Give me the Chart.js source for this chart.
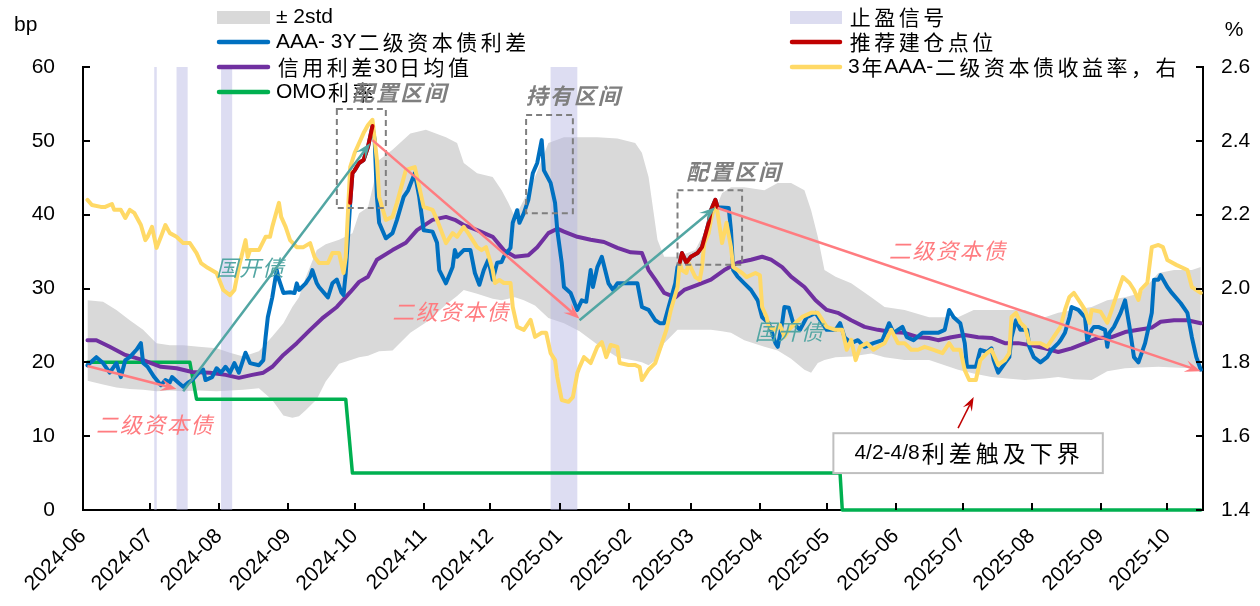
<!DOCTYPE html>
<html>
<head>
<meta charset="utf-8">
<script src="https://cdn.jsdelivr.net/npm/chart.js@4.4.1/dist/chart.umd.min.js"></script>
<style>
  html, body { margin: 0; padding: 0; background: #fff; }
  #c { display: block; }
</style>
</head>
<body>
<canvas id="c" width="1260" height="606"></canvas>
<script>
// ---------------- data ----------------
const tickLabels = ['2024-06','2024-07','2024-08','2024-09','2024-10','2024-11','2024-12','2025-01',
  '2025-02','2025-03','2025-04','2025-05','2025-06','2025-07','2025-08','2025-09','2025-10'];
const leftTicks = [0, 10, 20, 30, 40, 50, 60];
const rightTicks = [1.4, 1.6, 1.8, 2.0, 2.2, 2.4, 2.6];

// AAA- 3Y 二级资本债利差 (bp)
const spreadDates = ['2024-06-03','2024-06-07','2024-06-10','2024-06-13','2024-06-16','2024-06-18','2024-06-20','2024-06-22','2024-06-25','2024-06-27','2024-06-28','2024-06-30',
  '2024-07-03','2024-07-06','2024-07-08','2024-07-10','2024-07-11','2024-07-14','2024-07-16','2024-07-18','2024-07-20','2024-07-23','2024-07-25','2024-07-26','2024-07-29','2024-07-31',
  '2024-08-02','2024-08-04','2024-08-06','2024-08-08','2024-08-10','2024-08-13','2024-08-15','2024-08-19','2024-08-21','2024-08-22','2024-08-23','2024-08-25','2024-08-27','2024-08-28','2024-08-30',
  '2024-09-02','2024-09-04','2024-09-05','2024-09-06','2024-09-09','2024-09-11','2024-09-12','2024-09-14','2024-09-15','2024-09-19','2024-09-21','2024-09-23','2024-09-25','2024-09-26','2024-09-27','2024-09-29','2024-09-30',
  '2024-10-01','2024-10-03','2024-10-05','2024-10-07','2024-10-09','2024-10-10','2024-10-11','2024-10-12','2024-10-15','2024-10-18','2024-10-20','2024-10-23','2024-10-25','2024-10-28','2024-10-30',
  '2024-11-01','2024-11-05','2024-11-07','2024-11-08','2024-11-11','2024-11-14','2024-11-15','2024-11-16','2024-11-19','2024-11-22','2024-11-24','2024-11-26','2024-11-28','2024-11-30',
  '2024-12-02','2024-12-04','2024-12-06','2024-12-07','2024-12-10','2024-12-11','2024-12-13','2024-12-14','2024-12-16','2024-12-18','2024-12-20','2024-12-22','2024-12-24','2024-12-25','2024-12-28','2024-12-30','2024-12-31',
  '2025-01-02','2025-01-03','2025-01-06','2025-01-09','2025-01-11','2025-01-13','2025-01-15','2025-01-16','2025-01-18','2025-01-20','2025-01-23','2025-01-25','2025-01-27',
  '2025-02-02','2025-02-05','2025-02-07','2025-02-10','2025-02-13','2025-02-15','2025-02-17','2025-02-19','2025-02-22','2025-02-23','2025-02-24','2025-02-25','2025-02-27',
  '2025-03-01','2025-03-04','2025-03-06','2025-03-09','2025-03-10','2025-03-12','2025-03-13','2025-03-18','2025-03-19','2025-03-20','2025-03-22','2025-03-25','2025-03-28','2025-03-31',
  '2025-04-02','2025-04-05','2025-04-08','2025-04-09','2025-04-11','2025-04-12','2025-04-14','2025-04-16','2025-04-19','2025-04-22','2025-04-26','2025-04-29',
  '2025-05-01','2025-05-05','2025-05-07','2025-05-09','2025-05-12','2025-05-15','2025-05-18','2025-05-22','2025-05-26','2025-05-29','2025-05-31',
  '2025-06-04','2025-06-06','2025-06-09','2025-06-13','2025-06-16','2025-06-20','2025-06-23','2025-06-25','2025-06-27','2025-06-30',
  '2025-07-02','2025-07-03','2025-07-07','2025-07-09','2025-07-12','2025-07-14','2025-07-15','2025-07-17','2025-07-20','2025-07-22','2025-07-23','2025-07-25','2025-07-27','2025-07-30','2025-07-31',
  '2025-08-02','2025-08-05','2025-08-08','2025-08-10','2025-08-13','2025-08-14','2025-08-16','2025-08-18','2025-08-19','2025-08-22','2025-08-25','2025-08-26','2025-08-28','2025-08-29','2025-08-31',
  '2025-09-03','2025-09-04','2025-09-05','2025-09-07','2025-09-10','2025-09-12','2025-09-14','2025-09-16','2025-09-18','2025-09-21','2025-09-24','2025-09-25','2025-09-27','2025-09-28',
  '2025-10-01','2025-10-03','2025-10-07','2025-10-10','2025-10-12','2025-10-14','2025-10-16'];
const spreadValues = [19.6,20.7,19.9,18.6,19.9,18.0,20.3,20.7,21.7,22.6,19.9,19.4,
  18.0,16.9,17.6,17.3,18.0,17.2,16.7,17.2,17.6,18.6,19.0,17.6,18.0,19.2,
  18.6,19.4,18.6,19.9,18.6,21.3,19.9,19.6,20.3,23.4,26.1,28.8,32.5,31.2,29.4,
  29.5,29.4,30.7,29.8,30.7,31.6,32.5,30.7,30.2,28.8,30.7,31.2,29.5,29.1,32.1,41.6,45.6,
  46.0,47.0,47.4,49.2,52.0,50.1,42.4,38.9,36.8,37.5,39.3,42.4,43.3,45.6,42.4,
  37.9,37.7,36.2,32.5,30.7,32.9,35.2,34.3,35.2,35.2,32.1,30.5,32.5,33.9,
  31.2,33.5,33.6,34.3,35.5,38.9,40.6,38.9,40.2,42.0,45.6,47.0,50.1,46.0,44.3,41.6,37.9,
  33.5,30.2,29.4,27.1,28.4,28.2,32.5,30.2,32.9,34.3,30.7,29.8,30.7,
  30.7,30.7,27.5,27.1,25.7,25.3,25.3,27.5,30.7,32.9,33.5,34.8,33.5,
  34.3,34.8,35.6,38.9,40.6,42.0,41.0,40.9,37.9,32.5,31.6,30.7,29.8,28.4,
  26.1,25.3,22.6,22.1,25.3,27.5,27.4,25.3,24.4,26.1,26.7,25.3,
  24.4,24.4,25.3,23.4,22.6,23.0,22.1,22.6,23.0,25.3,24.0,
  24.8,23.4,23.0,24.0,24.0,24.0,24.4,27.1,26.1,25.3,
  22.6,19.4,19.4,21.7,21.4,21.9,20.3,18.6,19.9,20.7,23.4,25.7,24.4,24.4,22.1,
  20.7,20.0,20.7,21.7,22.6,23.0,24.0,26.1,27.5,27.1,26.1,23.0,24.4,24.8,24.8,
  24.4,22.1,24.0,24.8,26.7,28.4,24.8,20.7,20.0,22.6,26.7,31.2,31.2,31.8,
  30.2,29.4,28.0,26.7,23.4,20.7,19.0];

// 推荐建仓点位 (bp), null splits the two windows
const buyDates = ['2024-09-29','2024-09-30','2024-10-01','2024-10-03','2024-10-05','2024-10-07','2024-10-09',
  '2024-12-01',
  '2025-02-24','2025-02-25','2025-02-27','2025-03-01','2025-03-04','2025-03-06','2025-03-09','2025-03-10','2025-03-12','2025-03-13'];
const buyValues = [41.6,45.6,46.0,47.0,47.4,49.2,52.0,
  null,
  33.5,34.8,33.5,34.3,34.8,35.6,38.9,40.6,42.0,41.0];

// 信用利差30日均值 (bp)
const avgDates = ['2024-06-03','2024-06-07','2024-06-13','2024-06-20','2024-06-28','2024-07-06','2024-07-13','2024-07-20','2024-07-28',
  '2024-08-04','2024-08-10','2024-08-16','2024-08-21','2024-08-25','2024-08-30','2024-09-05','2024-09-11','2024-09-17','2024-09-23','2024-09-29',
  '2024-10-03','2024-10-07','2024-10-11','2024-10-18','2024-10-24','2024-10-29','2024-11-05','2024-11-11','2024-11-15','2024-11-19','2024-11-25',
  '2024-12-02','2024-12-07','2024-12-12','2024-12-18','2024-12-22','2024-12-27','2024-12-31','2025-01-03','2025-01-09','2025-01-15','2025-01-21','2025-01-27',
  '2025-02-02','2025-02-07','2025-02-10','2025-02-13','2025-02-17','2025-02-22','2025-02-26','2025-03-04','2025-03-10','2025-03-16','2025-03-22','2025-03-28',
  '2025-04-02','2025-04-06','2025-04-11','2025-04-15','2025-04-21','2025-04-26','2025-05-01','2025-05-06','2025-05-12','2025-05-18','2025-05-24','2025-05-30',
  '2025-06-05','2025-06-11','2025-06-16','2025-06-20','2025-06-26','2025-07-02','2025-07-08','2025-07-14','2025-07-20','2025-07-26',
  '2025-08-01','2025-08-07','2025-08-13','2025-08-19','2025-08-25','2025-08-31','2025-09-06','2025-09-12','2025-09-18','2025-09-24','2025-09-28',
  '2025-10-04','2025-10-10','2025-10-16'];
const avgValues = [23.0,23.0,22.1,21.0,20.3,19.4,19.2,18.7,18.6,
  18.3,17.9,18.3,18.6,19.4,21.0,22.6,24.4,26.1,27.5,29.5,
  30.9,31.6,33.9,35.2,36.2,37.9,39.3,39.7,39.3,38.6,37.9,
  37.0,35.2,34.3,34.5,35.6,37.5,38.1,37.7,37.0,36.6,36.3,35.5,
  34.9,34.8,32.5,31.2,29.4,28.8,29.8,30.5,31.2,32.5,33.5,33.9,
  34.3,33.9,32.9,31.6,30.2,28.4,27.1,26.7,25.7,24.8,24.4,24.1,
  24.0,23.4,23.3,23.0,23.4,23.7,23.4,23.3,22.6,22.6,
  22.3,21.9,21.4,21.9,22.6,23.3,23.4,24.1,24.4,24.7,25.5,
  25.7,25.7,25.3];

// 3年AAA-二级资本债收益率 (%, right axis)
const yieldDates = ['2024-06-03','2024-06-05','2024-06-09','2024-06-11','2024-06-14','2024-06-15','2024-06-18','2024-06-20','2024-06-22','2024-06-24','2024-06-27','2024-06-29','2024-06-30',
  '2024-07-02','2024-07-04','2024-07-06','2024-07-08','2024-07-10','2024-07-13','2024-07-16','2024-07-19','2024-07-22','2024-07-24','2024-07-27','2024-07-31',
  '2024-08-03','2024-08-06','2024-08-08','2024-08-10','2024-08-13','2024-08-14','2024-08-15','2024-08-19','2024-08-22','2024-08-24','2024-08-25','2024-08-28','2024-08-29','2024-08-31',
  '2024-09-02','2024-09-05','2024-09-08','2024-09-11','2024-09-13','2024-09-15','2024-09-19','2024-09-21','2024-09-24','2024-09-26','2024-09-27','2024-09-29',
  '2024-10-01','2024-10-05','2024-10-07','2024-10-09','2024-10-11','2024-10-12','2024-10-15','2024-10-18','2024-10-20','2024-10-24','2024-10-28','2024-10-29',
  '2024-11-01','2024-11-05','2024-11-07','2024-11-11','2024-11-14','2024-11-16','2024-11-19','2024-11-21','2024-11-25','2024-11-27','2024-11-29',
  '2024-12-02','2024-12-03','2024-12-05','2024-12-07','2024-12-10','2024-12-11','2024-12-13','2024-12-16','2024-12-19','2024-12-21','2024-12-24','2024-12-26','2024-12-28','2024-12-30','2024-12-31',
  '2025-01-02','2025-01-05','2025-01-07','2025-01-09','2025-01-10','2025-01-12','2025-01-15','2025-01-18','2025-01-20','2025-01-22','2025-01-24','2025-01-27','2025-01-28',
  '2025-02-01','2025-02-04','2025-02-06','2025-02-07','2025-02-10','2025-02-13','2025-02-16','2025-02-18','2025-02-20','2025-02-23','2025-02-24','2025-02-25','2025-02-27','2025-02-28',
  '2025-03-03','2025-03-05','2025-03-06','2025-03-07','2025-03-09','2025-03-10','2025-03-12','2025-03-13','2025-03-15','2025-03-16','2025-03-17','2025-03-19','2025-03-20','2025-03-22','2025-03-24','2025-03-26','2025-03-30',
  '2025-04-01','2025-04-02','2025-04-04','2025-04-05','2025-04-08','2025-04-10','2025-04-12','2025-04-14','2025-04-17','2025-04-20','2025-04-24','2025-04-27',
  '2025-05-01','2025-05-05','2025-05-08','2025-05-10','2025-05-12','2025-05-14','2025-05-16','2025-05-19','2025-05-22','2025-05-24','2025-05-27','2025-05-30',
  '2025-06-02','2025-06-05','2025-06-08','2025-06-11','2025-06-14','2025-06-18','2025-06-22','2025-06-25','2025-06-27','2025-06-30',
  '2025-07-02','2025-07-04','2025-07-07','2025-07-09','2025-07-12','2025-07-14','2025-07-17','2025-07-20','2025-07-22','2025-07-23','2025-07-25','2025-07-27','2025-07-29','2025-07-31',
  '2025-08-05','2025-08-08','2025-08-11','2025-08-14','2025-08-16','2025-08-18','2025-08-20','2025-08-23','2025-08-25','2025-08-27','2025-08-28',
  '2025-09-01','2025-09-04','2025-09-06','2025-09-09','2025-09-11','2025-09-14','2025-09-16','2025-09-18','2025-09-19','2025-09-22','2025-09-24','2025-09-27','2025-09-29',
  '2025-10-01','2025-10-05','2025-10-10','2025-10-12','2025-10-16'];
const yieldValues = [2.240,2.226,2.221,2.221,2.229,2.213,2.213,2.191,2.213,2.205,2.172,2.131,2.140,
  2.167,2.110,2.140,2.172,2.150,2.140,2.123,2.123,2.096,2.069,2.056,2.042,
  1.996,1.982,1.996,2.058,2.131,2.085,2.104,2.104,2.140,2.140,2.167,2.232,2.194,2.167,
  2.131,2.112,2.112,2.123,2.085,2.069,2.069,2.096,2.096,2.042,2.085,2.329,
  2.367,2.421,2.443,2.457,2.348,2.248,2.186,2.194,2.232,2.321,2.329,2.302,
  2.221,2.213,2.186,2.123,2.150,2.140,2.167,2.150,2.112,2.104,2.112,
  2.050,2.015,2.023,2.015,2.015,1.950,1.896,1.888,1.915,1.869,1.880,1.880,1.825,1.806,1.760,
  1.698,1.693,1.706,1.771,1.787,1.814,1.798,1.842,1.855,1.814,1.847,1.842,1.798,
  1.793,1.793,1.787,1.752,1.780,1.798,1.852,1.888,1.942,2.004,2.069,2.050,2.042,2.069,
  2.031,2.023,2.058,2.123,2.150,2.186,2.232,2.205,2.123,2.150,2.178,2.112,2.058,2.050,2.042,2.031,2.042,
  2.036,1.950,1.923,1.896,1.888,1.901,1.869,1.888,1.907,1.923,1.934,1.934,
  1.896,1.888,1.888,1.834,1.861,1.806,1.842,1.852,1.834,1.842,1.852,1.888,
  1.852,1.852,1.834,1.834,1.842,1.834,1.825,1.852,1.834,1.834,
  1.779,1.752,1.752,1.806,1.825,1.834,1.793,1.806,1.825,1.923,1.934,1.907,1.896,1.852,
  1.852,1.842,1.869,1.896,1.942,1.977,1.988,1.961,1.942,1.907,1.942,
  1.937,1.907,1.942,1.996,2.031,2.015,1.996,1.969,1.996,2.015,2.112,2.118,2.112,
  2.077,2.064,2.050,2.004,1.988];

// OMO利率 (%, right axis)
const omoDates = ['2024-06-03','2024-07-19','2024-07-22','2024-09-27','2024-09-30','2025-05-07','2025-05-08','2025-10-16'];
const omoValues = [1.8, 1.8, 1.7, 1.7, 1.5, 1.5, 1.4, 1.4];

// ± 2std 区间 (bp)
const bandDates = ['2024-06-03','2024-06-10','2024-06-16','2024-06-22','2024-06-28','2024-07-04','2024-07-10','2024-07-16','2024-07-23','2024-07-31',
  '2024-08-06','2024-08-12','2024-08-19','2024-08-25','2024-08-30','2024-09-03','2024-09-06','2024-09-09','2024-09-14','2024-09-18','2024-09-24','2024-09-30',
  '2024-10-03','2024-10-07','2024-10-12','2024-10-18','2024-10-26','2024-11-02','2024-11-11','2024-11-16','2024-11-19','2024-11-25',
  '2024-12-02','2024-12-06','2024-12-09','2024-12-12','2024-12-16','2024-12-21','2024-12-27','2025-01-03','2025-01-10','2025-01-18','2025-01-27',
  '2025-02-04','2025-02-07','2025-02-10','2025-02-14','2025-02-17','2025-02-23','2025-03-03','2025-03-10','2025-03-15','2025-03-19','2025-03-25',
  '2025-04-03','2025-04-09','2025-04-15','2025-04-21','2025-04-24','2025-04-27','2025-04-30','2025-05-05','2025-05-12','2025-05-21','2025-05-27',
  '2025-06-05','2025-06-16','2025-06-29','2025-07-06','2025-07-14','2025-07-21','2025-07-29','2025-08-07','2025-08-13','2025-08-20','2025-08-28',
  '2025-09-04','2025-09-12','2025-09-19','2025-09-27','2025-10-04','2025-10-12','2025-10-16'];
const bandUpper = [28.4,28.2,27.1,25.7,24.4,22.6,22.3,22.3,22.1,21.9,
  21.3,20.8,21.5,23.5,25.3,27.5,28.8,31.5,35.2,36.0,36.6,37.5,
  40.2,41.0,47.4,48.8,51.0,51.5,50.5,49.7,47.0,45.6,
  45.1,43.3,41.6,39.7,42.0,45.1,49.7,50.5,50.5,50.5,50.3,
  49.7,48.4,45.1,36.6,34.3,34.3,35.2,39.3,42.9,43.7,43.7,
  43.3,44.3,44.3,43.3,40.6,37.0,32.5,31.6,30.7,28.8,27.5,
  27.1,26.1,26.1,27.1,27.1,27.1,27.1,26.1,26.7,27.1,27.5,
  28.4,28.8,29.4,32.1,32.5,32.5,32.9];
const bandLower = [17.5,17.0,16.6,16.4,16.3,16.1,16.2,16.1,16.2,16.1,
  16.2,16.3,16.5,14.9,12.8,12.5,12.7,13.5,15.0,17.4,19.8,20.4,
  20.7,20.9,21.5,21.6,24.0,25.4,27.8,29.0,29.8,29.3,
  28.6,28.4,28.6,28.8,28.4,27.7,26.0,25.3,24.2,22.4,20.7,
  20.2,20.0,19.6,20.5,22.6,24.4,24.4,24.4,24.2,24.0,23.0,
  22.1,21.6,20.5,19.0,18.6,19.9,20.3,20.7,20.8,21.2,20.7,
  20.3,20.3,19.0,18.5,18.0,17.8,17.6,17.8,18.0,17.7,17.6,
  18.8,19.2,19.3,19.4,19.3,19.2,19.0];

// 止盈信号 windows
const signalStart = ['2024-07-03','2024-07-13','2024-08-02','2024-12-28'];
const signalEnd   = ['2024-07-04','2024-07-18','2024-08-07','2025-01-09'];

// ---------------- annotations (placed in data space) ----------------
const SALMON = '#FF7C80', TEAL = '#52A6A3', GREY = '#7F7F7F';
const boxes = [
  {from: '2024-09-23', to: '2024-10-15', top: 54.3, bottom: 40.9},
  {from: '2024-12-17', to: '2025-01-07', top: 53.5, bottom: 40.2},
  {from: '2025-02-23', to: '2025-03-24', top: 43.3, bottom: 33.2}
];
const notes = [
  {text: '配置区间', at: '2024-10-21', v: 56.5, color: GREY, bold: true, adv: 24},
  {text: '持有区间', at: '2025-01-07', v: 56.1, color: GREY, bold: true, adv: 24},
  {text: '配置区间', at: '2025-03-20', v: 45.8, color: GREY, bold: true, adv: 24},
  {text: '国开债', at: '2024-08-15', v: 32.8, color: TEAL, bold: false, adv: 23},
  {text: '国开债', at: '2025-04-14', v: 24.1, color: TEAL, bold: false, adv: 23},
  {text: '二级资本债', at: '2024-07-03', v: 11.6, color: SALMON, bold: false, adv: 23.6},
  {text: '二级资本债', at: '2024-11-13', v: 26.8, color: SALMON, bold: false, adv: 23.6},
  {text: '二级资本债', at: '2025-06-24', v: 35.1, color: SALMON, bold: false, adv: 23.6}
];
const trendArrows = [
  {from: ['2024-06-03', 19.5], to: ['2024-07-13', 16.4], color: SALMON},
  {from: ['2024-07-16', 16.1], to: ['2024-10-08', 49.7], color: TEAL},
  {from: ['2024-10-09', 50.1], to: ['2025-01-10', 25.9], color: SALMON},
  {from: ['2025-01-10', 25.7], to: ['2025-03-12', 41.0], color: TEAL},
  {from: ['2025-03-13', 40.9], to: ['2025-10-16', 18.8], color: SALMON}
];
const callout = {text: '4/2-4/8利差触及下界', from: '2025-05-04', to: '2025-09-02', top: 10.4, bottom: 5.0,
  arrowFrom: ['2025-06-29', 11.1], arrowTo: ['2025-07-06', 15.3]};

// ---------------- helpers ----------------
function dayOf(s) {
  const p = s.split('-').map(Number);
  return (Date.UTC(p[0], p[1] - 1, p[2]) - Date.UTC(2024, 5, 1)) / 864e5;
}
function pts(dates, vals) {
  return dates.map((d, i) => ({x: dayOf(d), y: vals[i]}));
}
const LATIN = '"Liberation Sans", Arial, sans-serif';
const CJK = '"Noto Sans CJK SC", sans-serif';
const isCJK = ch => /[\u2E80-\u9FFF\u3000-\u303F\uFF00-\uFFEF]/.test(ch);

function runs(text) {
  const out = [];
  for (const ch of text) {
    const c = isCJK(ch);
    if (out.length && out[out.length - 1].cjk === c) out[out.length - 1].s += ch;
    else out.push({cjk: c, s: ch});
  }
  return out;
}
// draws latin runs normally and CJK chars on a fixed pitch
function mixedText(ctx, text, x, y, st, align) {
  const rs = runs(text);
  let w = 0;
  rs.forEach(r => {
    if (r.cjk) w += [...r.s].length * st.adv;
    else { ctx.font = st.pre + st.size + 'px ' + LATIN; w += ctx.measureText(r.s).width; }
  });
  let cx = align === 'center' ? x - w / 2 : x;
  ctx.textBaseline = 'middle';
  ctx.textAlign = 'left';
  ctx.fillStyle = st.color;
  rs.forEach(r => {
    if (r.cjk) {
      ctx.font = st.pre + (st.cjkSize || st.size) + 'px ' + CJK;
      for (const ch of r.s) {
        const gw = ctx.measureText(ch).width;
        ctx.fillText(ch, cx + (st.adv - gw) / 2, y);
        cx += st.adv;
      }
    } else {
      ctx.font = st.pre + st.size + 'px ' + LATIN;
      ctx.fillText(r.s, cx, y);
      cx += ctx.measureText(r.s).width;
    }
  });
}
function arrow(ctx, x1, y1, x2, y2, color, w, len, hw) {
  const a = Math.atan2(y2 - y1, x2 - x1), c = Math.cos(a), s = Math.sin(a);
  ctx.strokeStyle = color; ctx.lineWidth = w; ctx.lineCap = 'butt';
  ctx.beginPath(); ctx.moveTo(x1, y1); ctx.lineTo(x2 - c * len * 0.6, y2 - s * len * 0.6); ctx.stroke();
  ctx.fillStyle = color;
  ctx.beginPath();
  ctx.moveTo(x2, y2);
  ctx.lineTo(x2 - len * c - hw * s, y2 - len * s + hw * c);
  ctx.lineTo(x2 - 0.6 * len * c, y2 - 0.6 * len * s);
  ctx.lineTo(x2 - len * c + hw * s, y2 - len * s - hw * c);
  ctx.closePath(); ctx.fill();
}

// ---------------- decorations ----------------
const decor = {
  id: 'decor',
  afterDatasetDraw(chart, args) {
    // stop-profit windows sit over the grey band, under the lines
    if (chart.data.datasets[args.index].label !== '± 2std') return;
    const {ctx, chartArea: a, scales: {x}} = chart;
    ctx.save();
    ctx.fillStyle = 'rgba(180,180,226,0.45)';
    signalStart.forEach((s, i) => {
      const x1 = x.getPixelForValue(dayOf(s)), x2 = x.getPixelForValue(dayOf(signalEnd[i]));
      ctx.fillRect(x1, a.top, Math.max(x2 - x1, 2.5), a.bottom - a.top);
    });
    ctx.restore();
  },
  afterDatasetsDraw(chart) {
    const {ctx, chartArea: a, scales: {x, y, y2}} = chart;
    const px = d => x.getPixelForValue(dayOf(d));
    const py = v => y.getPixelForValue(v);
    ctx.save();

    // inner tick marks
    ctx.strokeStyle = '#000'; ctx.lineWidth = 2;
    ctx.beginPath();
    leftTicks.forEach(v => { const t = Math.round(py(v)); ctx.moveTo(a.left, t); ctx.lineTo(a.left + 7, t); });
    rightTicks.forEach(v => { const t = Math.round(y2.getPixelForValue(v)); ctx.moveTo(a.right - 7, t); ctx.lineTo(a.right, t); });
    tickLabels.forEach(m => { const t = Math.round(px(m + '-01')); ctx.moveTo(t, a.bottom); ctx.lineTo(t, a.bottom - 7); });
    ctx.stroke();

    // axis units
    ctx.fillStyle = '#000'; ctx.font = '21px ' + LATIN; ctx.textBaseline = 'middle';
    ctx.textAlign = 'left'; ctx.fillText('bp', 14, 25);
    ctx.textAlign = 'center'; ctx.fillText('%', 1234, 30);

    // legend
    const lg = {pre: '', size: 21, adv: 24.5, color: '#000'};
    const legendRows = [
      {x0: 217, x1: 270, tx: 276, y: 17, label: '± 2std', fill: '#D9D9D9'},
      {x0: 217, x1: 270, tx: 276, y: 42, label: 'AAA- 3Y二级资本债利差', line: '#0070C0'},
      {x0: 217, x1: 270, tx: 276, y: 67, label: '信用利差30日均值', line: '#7030A0'},
      {x0: 217, x1: 270, tx: 276, y: 92, label: 'OMO利率', line: '#00B050'},
      {x0: 790, x1: 842, tx: 848, y: 17, label: '止盈信号', fill: '#DCDCF0'},
      {x0: 790, x1: 842, tx: 848, y: 42, label: '推荐建仓点位', line: '#C00000'},
      {x0: 790, x1: 842, tx: 848, y: 67, label: '3年AAA-二级资本债收益率，右', line: '#FFD966'}
    ];
    legendRows.forEach(r => {
      if (r.fill) { ctx.fillStyle = r.fill; ctx.fillRect(r.x0, r.y - 6, r.x1 - r.x0, 13); }
      else {
        ctx.strokeStyle = r.line; ctx.lineWidth = 4.5; ctx.lineCap = 'round';
        ctx.beginPath(); ctx.moveTo(r.x0 + 2, r.y); ctx.lineTo(r.x1 - 2, r.y); ctx.stroke();
      }
      mixedText(ctx, r.label, r.tx, r.y, lg, 'left');
    });

    // dashed boxes
    ctx.strokeStyle = GREY; ctx.lineWidth = 2; ctx.setLineDash([6, 4]); ctx.lineCap = 'butt';
    boxes.forEach(b => {
      const x1 = px(b.from), x2 = px(b.to), y1 = py(b.top), yb = py(b.bottom);
      ctx.strokeRect(x1, y1, x2 - x1, yb - y1);
    });
    ctx.setLineDash([]);

    // trend arrows
    trendArrows.forEach(t => {
      arrow(ctx, px(t.from[0]), py(t.from[1]), px(t.to[0]), py(t.to[1]), t.color, 2.5, 16, 6);
    });

    // text notes
    notes.forEach(n => {
      mixedText(ctx, n.text, px(n.at), py(n.v),
        {pre: n.bold ? 'italic bold ' : 'italic ', size: 22, adv: n.adv, color: n.color}, 'center');
    });

    // callout box
    const cx1 = px(callout.from), cx2 = px(callout.to), cy1 = py(callout.top), cy2 = py(callout.bottom);
    ctx.fillStyle = '#fff'; ctx.fillRect(cx1, cy1, cx2 - cx1, cy2 - cy1);
    ctx.strokeStyle = '#BFBFBF'; ctx.lineWidth = 2; ctx.strokeRect(cx1, cy1, cx2 - cx1, cy2 - cy1);
    mixedText(ctx, callout.text, (cx1 + cx2) / 2, (cy1 + cy2) / 2, {pre: '', size: 21, cjkSize: 23, adv: 27, color: '#000'}, 'center');
    arrow(ctx, px(callout.arrowFrom[0]), py(callout.arrowFrom[1]), px(callout.arrowTo[0]), py(callout.arrowTo[1]),
      '#C00000', 1.5, 14, 5);

    ctx.restore();
  }
};

// ---------------- chart ----------------
const tickFont = {family: LATIN, size: 21};
new Chart(document.getElementById('c'), {
  type: 'line',
  data: {
    datasets: [
      {label: '推荐建仓点位', data: pts(buyDates, buyValues), yAxisID: 'y', borderColor: '#C00000', borderWidth: 4, order: 0},
      {label: '3年AAA-二级资本债收益率，右', data: pts(yieldDates, yieldValues), yAxisID: 'y2', borderColor: '#FFD966', borderWidth: 4, order: 1},
      {label: 'AAA- 3Y二级资本债利差', data: pts(spreadDates, spreadValues), yAxisID: 'y', borderColor: '#0070C0', borderWidth: 4, order: 2},
      {label: '信用利差30日均值', data: pts(avgDates, avgValues), yAxisID: 'y', borderColor: '#7030A0', borderWidth: 4, order: 3},
      {label: 'OMO利率', data: pts(omoDates, omoValues), yAxisID: 'y2', borderColor: '#00B050', borderWidth: 3.5, order: 4, clip: false},
      {label: '± 2std', data: pts(bandDates, bandUpper), yAxisID: 'y', borderColor: 'rgba(0,0,0,0)', borderWidth: 1,
        backgroundColor: '#D9D9D9', fill: '+1', order: 10},
      {label: 'lower', data: pts(bandDates, bandLower), yAxisID: 'y', borderColor: 'rgba(0,0,0,0)', borderWidth: 1,
        fill: false, order: 11}
    ]
  },
  options: {
    responsive: false,
    animation: false,
    devicePixelRatio: 1,
    layout: {padding: {top: 67, left: 0, right: 0, bottom: 0}},
    elements: {
      point: {radius: 0, hoverRadius: 0},
      line: {tension: 0, borderJoinStyle: 'round', borderCapStyle: 'round'}
    },
    plugins: {legend: {display: false}, tooltip: {enabled: false}},
    scales: {
      x: {
        type: 'linear', min: 0, max: dayOf('2025-10-17'), offset: false,
        afterBuildTicks: ax => { ax.ticks = tickLabels.map(m => ({value: dayOf(m + '-01')})); },
        afterFit: ax => { ax.height = 96; },
        grid: {display: false},
        border: {display: true, color: '#000', width: 2},
        ticks: {autoSkip: false, maxRotation: 45, minRotation: 45, padding: 6, color: '#000', font: tickFont,
          callback: (v, i) => tickLabels[i]}
      },
      y: {
        position: 'left', min: 0, max: 60,
        afterBuildTicks: ax => { ax.ticks = leftTicks.map(v => ({value: v})); },
        afterFit: ax => { ax.width = 83; },
        grid: {display: false},
        border: {display: true, color: '#000', width: 2},
        ticks: {padding: 20, color: '#000', font: tickFont}
      },
      y2: {
        position: 'right', min: 1.4, max: 2.6,
        afterBuildTicks: ax => { ax.ticks = rightTicks.map(v => ({value: v})); },
        afterFit: ax => { ax.width = 57; },
        grid: {display: false},
        border: {display: true, color: '#000', width: 2},
        ticks: {padding: 10, color: '#000', font: tickFont, callback: v => Number(v).toFixed(1)}
      }
    }
  },
  plugins: [decor]
});
</script>
</body>
</html>
